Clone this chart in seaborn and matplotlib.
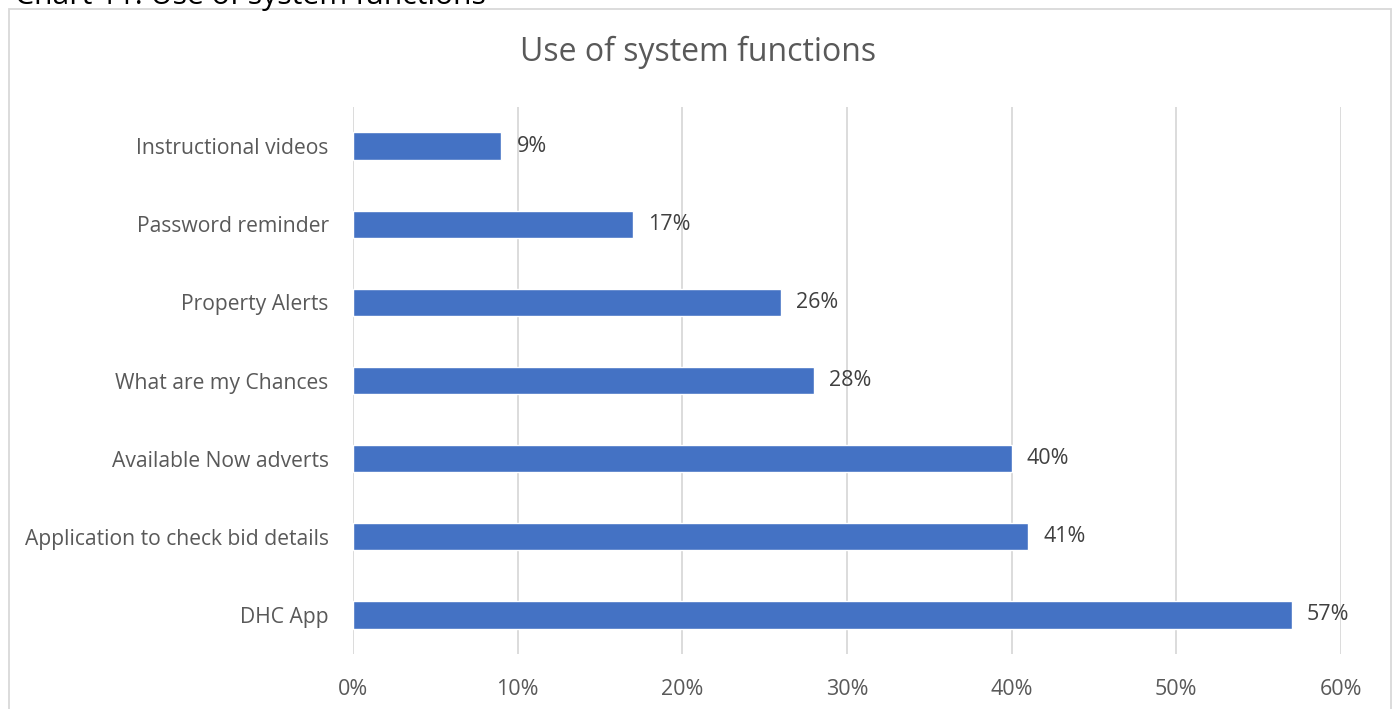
import matplotlib
matplotlib.use("Agg")
import matplotlib.pyplot as plt
import matplotlib.patches as mpatches
from matplotlib.ticker import FuncFormatter
import seaborn as sns
import pandas as pd

categories = [
    "Instructional videos",
    "Password reminder",
    "Property Alerts",
    "What are my Chances",
    "Available Now adverts",
    "Application to check bid details",
    "DHC App",
]
values = [9, 17, 26, 28, 40, 41, 57]
x_ticks = [0, 10, 20, 30, 40, 50, 60]

df = pd.DataFrame({"function": categories, "pct": values})

sns.set_theme(style="white")
plt.rcParams["font.family"] = ["Open Sans", "DejaVu Sans"]

W, H = 1396, 709
fig = plt.figure(figsize=(W / 100, H / 100), dpi=100)
ax = fig.add_axes([353 / W, 1 - 654 / H, (1341 - 353) / W, (654 - 107) / H])

sns.barplot(data=df, x="pct", y="function", order=categories, orient="h",
            color="#4472C4", width=0.35, saturation=1, ax=ax)

ax.set_xlim(0, 60)
ax.set_ylim(6.5, -0.5)
ax.set_xticks(x_ticks)
ax.xaxis.set_major_formatter(FuncFormatter(lambda v, _: f"{v:.0f}%"))
ax.grid(axis="x", color="#d9d9d9", linewidth=1.3)
ax.set_axisbelow(True)
for s in ax.spines.values():
    s.set_visible(False)
ax.set_xlabel("")
ax.set_ylabel("")
ax.tick_params(axis="x", length=0, pad=18, labelsize=15.5, labelcolor="#595959")
ax.tick_params(axis="y", length=0, pad=17.5, labelsize=15.2, labelcolor="#595959")

ax.bar_label(ax.containers[0], labels=[f"{v}%" for v in values],
             padding=11, fontsize=15.5, color="#404040")

fig.text(0.5, 1 - 52 / H, "Use of system functions", ha="center", va="center",
         fontsize=23, color="#595959")

# chart frame
fig.patches.append(mpatches.Rectangle((9 / W, -0.05), (1391 - 9) / W, 1.05 - 9 / H,
                                      transform=fig.transFigure, fill=False,
                                      edgecolor="#d9d9d9", linewidth=1.3))

# document caption above the frame
fig.text(15 / W, 1 - 4 / H, "Chart 11: Use of system functions", ha="left",
         va="baseline", fontsize=21.7, color="#000000")

fig.savefig("out.png", dpi=100)
